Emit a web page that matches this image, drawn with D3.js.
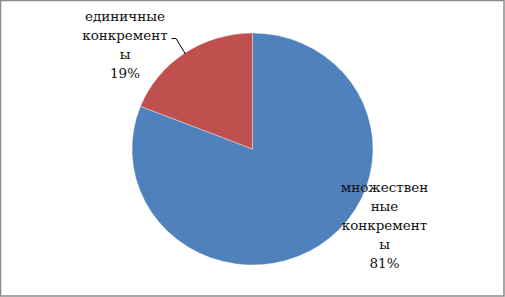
<!DOCTYPE html>
<html><head><meta charset="utf-8">
<script src="https://cdn.jsdelivr.net/npm/d3@7"></script>
<style>body{margin:0;background:#fff}svg{display:block}</style>
</head><body>
<svg id="c" width="505" height="297"></svg>
<script>
const categories = ["множественные конкременты", "единичные конкременты"];
const values = [81, 19];
const labelLines = [["множествен","ные","конкремент","ы","81%"],["единичные","конкремент","ы","19%"]];
const colors = ["#4F81BD", "#C0504D"];

const svg = d3.select("#c");
svg.append("rect").attr("x",0.5).attr("y",0.5).attr("width",503.5).attr("height",295.5)
  .attr("fill","#fff").attr("stroke","#8a8a8a").attr("stroke-width",1.5);

const cx = 252.5, cy = 149, rx = 120.5, ry = 116;
const pie = d3.pie().sort(null).value(d => d)(values);
const arc = d3.arc().innerRadius(0).outerRadius(rx);
const g = svg.append("g").attr("transform", `translate(${cx},${cy}) scale(1,${ry/rx})`);
g.selectAll("path").data(pie).enter().append("path")
  .attr("d", arc).attr("fill", (d,i) => colors[i])
  .attr("stroke","#fff").attr("stroke-width",0.6).attr("stroke-opacity",0.6);

// labels
const labelPos = [{x:384.5, y:192}, {x:125, y:21}];
const lh = 19;
labelPos.forEach((p, i) => {
  const t = svg.append("text").attr("text-anchor","middle")
    .style("font-family",'"DejaVu Serif",serif')
    .style("font-size","13.5px").attr("fill","#111");
  labelLines[i].forEach((ln, j) => {
    t.append("tspan").attr("x", p.x).attr("y", p.y + j*lh).text(ln);
  });
});

// leader line for small slice
const mid = (pie[1].startAngle + pie[1].endAngle)/2;
const ex = cx + Math.sin(mid)*rx*0.99, ey = cy - Math.cos(mid)*ry*0.99;
svg.append("path")
  .attr("d", `M171.5,38.5 L176,38.5 L${ex},${ey}`)
  .attr("fill","none").attr("stroke","#000").attr("stroke-width",1);
</script>
</body></html>
